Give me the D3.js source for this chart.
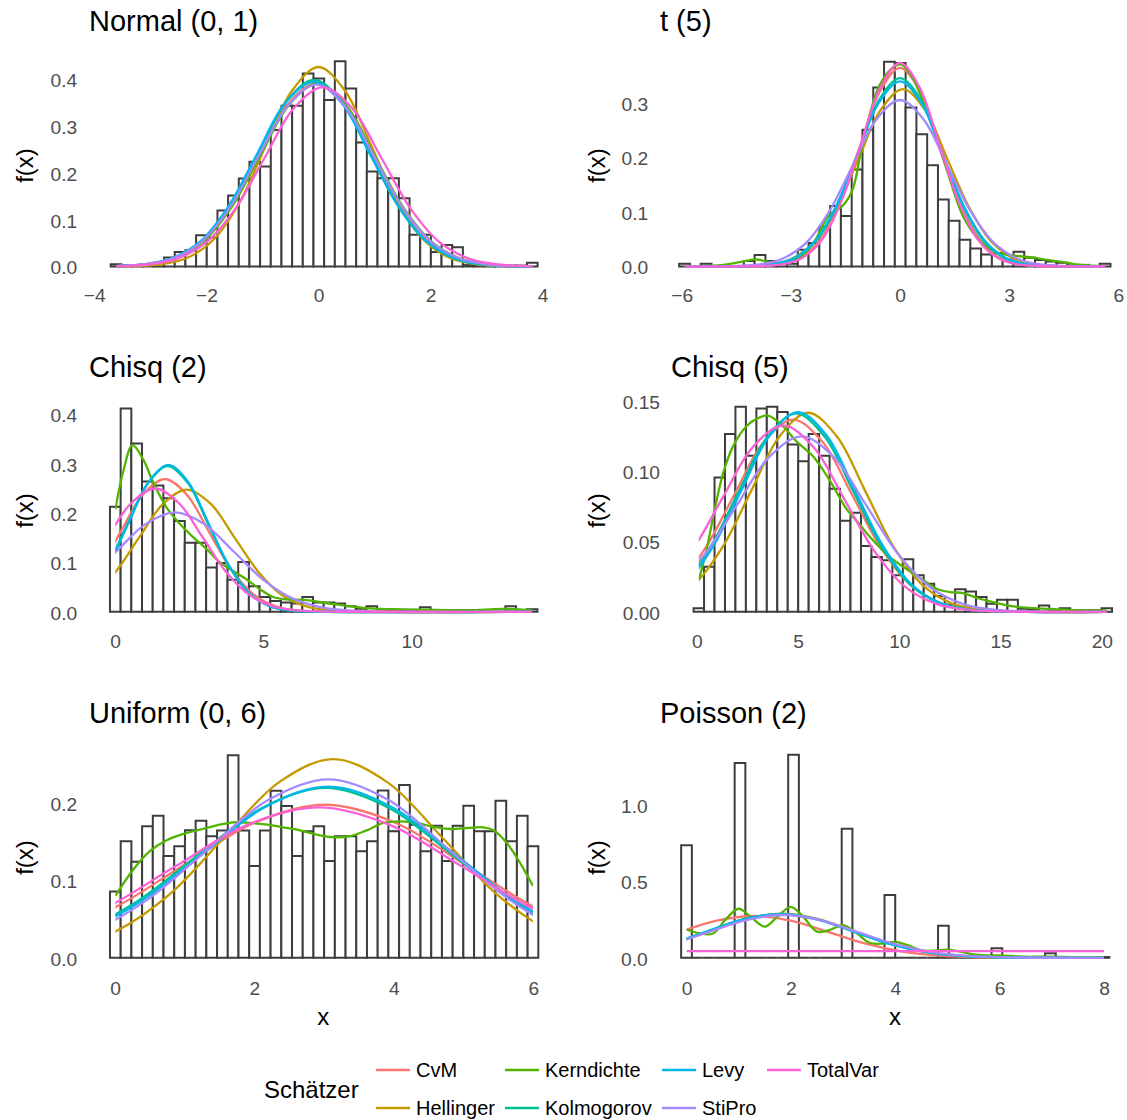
<!DOCTYPE html>
<html><head><meta charset="utf-8">
<script src="https://cdn.jsdelivr.net/npm/d3@7"></script>
<style>body{margin:0;background:#fff}</style>
</head><body>
<svg id="chart" width="1127" height="1120"></svg>
<script>
// ---------------- DATA ----------------
const estimators = ["CvM","Hellinger","Kerndichte","Kolmogorov","Levy","StiPro","TotalVar"];
const legendTitle = "Schätzer";
const panelTitles = ["Normal (0, 1)","t (5)","Chisq (2)","Chisq (5)","Uniform (0, 6)","Poisson (2)"];

// tick values
const normXTicks = [-4,-2,0,2,4], normYTicks = [0,0.1,0.2,0.3,0.4];
const tXTicks = [-6,-3,0,3,6], tYTicks = [0,0.1,0.2,0.3];
const c2XTicks = [0,5,10], c2YTicks = [0,0.1,0.2,0.3,0.4];
const c5XTicks = [0,5,10,15,20], c5YTicks = [0,0.05,0.10,0.15];
const uXTicks = [0,2,4,6], uYTicks = [0,0.1,0.2];
const pXTicks = [0,2,4,6,8], pYTicks = [0,0.5,1.0];

// histograms (density per bin), bin start and width, sample range
const normBinStart = -3.707, normBinWidth = 0.1904, normRange = [-3.61, 3.816];
const normHist = [0.005,0.003,0.003,0.005,0.008,0.019,0.031,0.035,0.067,0.062,0.120,0.152,0.188,0.224,0.214,0.292,0.344,0.344,0.413,0.402,0.356,0.439,0.381,0.265,0.203,0.189,0.189,0.146,0.068,0.068,0.031,0.046,0.041,0.003,0.002,0.002,0.002,0.002,0.002,0.008];
const tBinStart = -6.07, tBinWidth = 0.2964, tRange = [-5.92, 5.64];
const tHist = [0.005,0,0.005,0,0,0,0.010,0.021,0.010,0.006,0.005,0.031,0.043,0.073,0.111,0.093,0.178,0.251,0.329,0.376,0.374,0.292,0.243,0.186,0.123,0.084,0.049,0.033,0.022,0.025,0.013,0.027,0.016,0.012,0.009,0.007,0.002,0.003,0,0.005];
const c2BinStart = -0.17, c2BinWidth = 0.3602, c2Range = [0.01, 14.06];
const c2Hist = [0.213,0.412,0.341,0.264,0.256,0.230,0.184,0.140,0.140,0.090,0.099,0.065,0.101,0.052,0.030,0.022,0.019,0.017,0.030,0.019,0.019,0.017,0.011,0.006,0.011,0.005,0.003,0.003,0.003,0.009,0,0,0.003,0.003,0.003,0,0,0.011,0,0.005];
const c5BinStart = -0.158, c5BinWidth = 0.5166, c5Range = [0.1, 20.25];
const c5Hist = [0.0026,0.032,0.0955,0.1264,0.1457,0.111,0.1445,0.1457,0.142,0.119,0.107,0.1264,0.111,0.0874,0.0648,0.0705,0.0467,0.039,0.0367,0.026,0.0374,0.026,0.020,0.0112,0.0052,0.016,0.0145,0.0105,0.0057,0.0086,0.0086,0.0021,0.0014,0.0045,0.0014,0.0026,0.001,0.001,0.001,0.0026];
const uBinStart = -0.072, uBinWidth = 0.1536, uRange = [0.005, 5.995];
const uHist = [0.0855,0.1504,0.124,0.1696,0.1833,0.1312,0.144,0.1645,0.177,0.1568,0.1643,0.2615,0.1643,0.1184,0.1643,0.2154,0.196,0.1312,0.1633,0.1696,0.1248,0.1568,0.1568,0.1376,0.1504,0.2158,0.1632,0.2231,0.1718,0.1376,0.1705,0.1248,0.1705,0.1962,0.1632,0.1632,0.2026,0.1504,0.1833,0.144];
const pBinStart = -0.1026, pBinWidth = 0.2051, pRange = [0, 8];
const pHist = [0.7386,0,0,0,0,1.279,0,0,0,0,1.333,0,0,0,0,0.8475,0,0,0,0.4118,0,0,0,0,0.211,0,0,0,0,0.063,0,0,0,0,0.0305,0,0,0,0,0.005];

// fitted density curves [x, f(x)]
const normCvM = [[-4.13,0.0001],[-3.11,0.0043],[-2.60,0.0172],[-2.09,0.0529],[-1.58,0.1270],[-1.07,0.2372],[-0.56,0.3452],[-0.05,0.3911],[0.46,0.3452],[0.97,0.2372],[1.48,0.1270],[1.99,0.0529],[2.50,0.0172],[3.01,0.0043],[4.03,0.0001]];
const normHellinger = [[-3.74,0.0001],[-2.81,0.0047],[-2.34,0.0187],[-1.87,0.0577],[-1.40,0.1385],[-0.94,0.2588],[-0.47,0.3765],[0,0.4267],[0.47,0.3765],[0.94,0.2588],[1.40,0.1385],[1.87,0.0577],[2.34,0.0187],[2.81,0.0047],[3.74,0.0001],[3.82,0.0001]];
const normKern = [[-4.10,0.0001],[-3.08,0.0043],[-2.57,0.0172],[-2.06,0.0529],[-1.55,0.1270],[-1.04,0.2372],[-0.53,0.3452],[-0.02,0.3911],[0.49,0.3452],[1.00,0.2372],[1.51,0.1270],[2.02,0.0529],[2.53,0.0172],[3.04,0.0043],[4.06,0.0001]];
const normKolm = [[-4.08,0.0001],[-3.08,0.0044],[-2.58,0.0175],[-2.08,0.0540],[-1.58,0.1295],[-1.08,0.2420],[-0.58,0.3521],[-0.08,0.3989],[0.42,0.3521],[0.92,0.2420],[1.42,0.1295],[1.92,0.0540],[2.42,0.0175],[2.92,0.0044],[3.92,0.0001]];
const normLevy = [[-4.13,0.0001],[-3.12,0.0044],[-2.62,0.0174],[-2.11,0.0535],[-1.61,0.1282],[-1.10,0.2396],[-0.60,0.3486],[-0.09,0.3950],[0.42,0.3486],[0.92,0.2396],[1.43,0.1282],[1.93,0.0535],[2.44,0.0174],[2.94,0.0044],[3.95,0.0001]];
const normStiPro = [[-4.14,0.0001],[-3.12,0.0043],[-2.60,0.0171],[-2.09,0.0527],[-1.58,0.1264],[-1.07,0.2361],[-0.55,0.3435],[-0.04,0.3892],[0.47,0.3435],[0.99,0.2361],[1.50,0.1264],[2.01,0.0527],[2.52,0.0171],[3.04,0.0043],[4.06,0.0001]];
const normTotalVar = [[-4.08,0.0001],[-3.04,0.0043],[-2.52,0.0169],[-2.00,0.0519],[-1.48,0.1245],[-0.96,0.2327],[-0.44,0.3385],[0.08,0.3836],[0.60,0.3385],[1.12,0.2327],[1.64,0.1245],[2.16,0.0519],[2.68,0.0169],[3.20,0.0043],[4.24,0.0001]];

const tCvM = [[-5.92,0],[-4.37,0.0001],[-3.28,0.0041],[-2.73,0.0160],[-2.19,0.0494],[-1.64,0.1185],[-1.09,0.2214],[-0.55,0.3221],[0,0.3650],[0.55,0.3221],[1.09,0.2214],[1.64,0.1185],[2.19,0.0494],[2.73,0.0160],[3.28,0.0041],[4.37,0.0001],[5.64,0]];
const tHellinger = [[-5.92,0],[-4.82,0.0001],[-3.59,0.0036],[-2.98,0.0143],[-2.37,0.0441],[-1.76,0.1058],[-1.14,0.1977],[-0.53,0.2876],[0.08,0.3259],[0.69,0.2876],[1.30,0.1977],[1.92,0.1058],[2.53,0.0441],[3.14,0.0143],[3.75,0.0036],[4.98,0.0001],[5.64,0]];
const tKern = [[-5.92,0.001],[-5.0,0.002],[-4.4,0.008],[-3.97,0.013],[-3.42,0.006],[-2.87,0.011],[-2.41,0.040],[-1.95,0.094],[-1.58,0.111],[-1.30,0.142],[-1.03,0.225],[-0.57,0.332],[-0.15,0.368],[0.05,0.371],[0.35,0.346],[0.81,0.271],[1.28,0.179],[1.73,0.093],[2.20,0.047],[2.66,0.026],[3.12,0.020],[3.58,0.017],[4.04,0.012],[4.50,0.008],[4.96,0.003],[5.64,0.001]];
const tKolm = [[-5.92,0],[-4.61,0.0001],[-3.46,0.0038],[-2.88,0.0152],[-2.31,0.0468],[-1.73,0.1123],[-1.15,0.2099],[-0.58,0.3054],[0,0.3460],[0.58,0.3054],[1.15,0.2099],[1.73,0.1123],[2.31,0.0468],[2.88,0.0152],[3.46,0.0038],[4.61,0.0001],[5.64,0]];
const tLevy = [[-5.92,0],[-4.69,0.0001],[-3.52,0.0038],[-2.93,0.0149],[-2.35,0.0460],[-1.76,0.1104],[-1.17,0.2063],[-0.59,0.3001],[0,0.3401],[0.59,0.3001],[1.17,0.2063],[1.76,0.1104],[2.35,0.0460],[2.93,0.0149],[3.52,0.0038],[4.69,0.0001],[5.64,0]];
const tStiPro = [[-5.92,0],[-5.22,0.0001],[-3.91,0.0034],[-3.26,0.0134],[-2.61,0.0414],[-1.96,0.0993],[-1.30,0.1856],[-0.65,0.2700],[0,0.3059],[0.65,0.2700],[1.30,0.1856],[1.96,0.0993],[2.61,0.0414],[3.26,0.0134],[3.91,0.0034],[5.22,0.0001],[5.64,0]];
const tTotalVar = [[-5.92,0],[-4.27,0.0001],[-3.20,0.0042],[-2.67,0.0164],[-2.13,0.0506],[-1.60,0.1214],[-1.07,0.2268],[-0.53,0.3300],[0,0.3739],[0.53,0.3300],[1.07,0.2268],[1.60,0.1214],[2.13,0.0506],[2.67,0.0164],[3.20,0.0042],[4.27,0.0001],[5.64,0]];

const c2CvM = [[-4.25,0.0001],[-2.77,0.0030],[-2.03,0.0118],[-1.29,0.0364],[-0.54,0.0873],[0.20,0.1632],[0.94,0.2374],[1.68,0.2690],[2.42,0.2374],[3.16,0.1632],[3.90,0.0873],[4.65,0.0364],[5.39,0.0118],[6.13,0.0030],[7.61,0.0001],[14.06,0]];
const c2Hellinger = [[-4.02,0.0001],[-2.41,0.0028],[-1.61,0.0109],[-0.80,0.0335],[0.01,0.0804],[0.81,0.1503],[1.62,0.2187],[2.42,0.2478],[3.23,0.2187],[4.03,0.1503],[4.84,0.0804],[5.64,0.0335],[6.45,0.0109],[7.25,0.0028],[8.86,0.0001],[14.06,0]];
const c2Kern = [[0.01,0.208],[0.28,0.285],[0.59,0.338],[0.95,0.309],[1.29,0.262],[1.74,0.211],[2.19,0.178],[2.64,0.151],[3.09,0.127],[3.54,0.100],[3.98,0.083],[4.43,0.066],[4.88,0.046],[5.33,0.030],[5.80,0.025],[6.34,0.024],[7.46,0.015],[8.59,0.007],[9.71,0.005],[10.83,0.004],[11.95,0.003],[13.07,0.006],[14.06,0.003]];
const c2Kolm = [[-3.62,0.0001],[-2.27,0.0033],[-1.60,0.0130],[-0.92,0.0400],[-0.25,0.0959],[0.43,0.1792],[1.11,0.2608],[1.78,0.2955],[2.46,0.2608],[3.13,0.1792],[3.81,0.0959],[4.48,0.0400],[5.16,0.0130],[5.83,0.0033],[7.18,0.0001],[14.06,0]];
const c2Levy = [[-3.56,0.0001],[-2.22,0.0033],[-1.55,0.0131],[-0.88,0.0403],[-0.21,0.0967],[0.46,0.1806],[1.13,0.2627],[1.80,0.2977],[2.47,0.2627],[3.14,0.1806],[3.81,0.0967],[4.48,0.0403],[5.15,0.0131],[5.82,0.0033],[7.16,0.0001],[14.06,0]];
const c2StiPro = [[-5.90,0.0001],[-3.92,0.0022],[-2.93,0.0089],[-1.94,0.0273],[-0.95,0.0654],[0.04,0.1222],[1.03,0.1778],[2.02,0.2015],[3.01,0.1778],[4.00,0.1222],[4.99,0.0654],[5.98,0.0273],[6.97,0.0089],[7.96,0.0022],[9.94,0.0001],[14.06,0]];
const c2TotalVar = [[-5.03,0.0001],[-3.44,0.0028],[-2.64,0.0110],[-1.84,0.0338],[-1.04,0.0812],[-0.25,0.1516],[0.55,0.2206],[1.35,0.2500],[2.15,0.2206],[2.95,0.1516],[3.74,0.0812],[4.54,0.0338],[5.34,0.0110],[6.14,0.0028],[7.73,0.0001],[14.06,0]];

const c5CvM = [[-6.92,0],[-4.00,0.0015],[-2.54,0.0060],[-1.08,0.0185],[0.38,0.0444],[1.84,0.0829],[3.30,0.1206],[4.76,0.1366],[6.22,0.1206],[7.68,0.0829],[9.14,0.0444],[10.60,0.0185],[12.06,0.0060],[13.52,0.0015],[16.44,0],[20.25,0]];
const c5Hellinger = [[-5.78,0],[-2.96,0.0016],[-1.55,0.0062],[-0.14,0.0191],[1.27,0.0459],[2.68,0.0858],[4.09,0.1248],[5.50,0.1415],[6.91,0.1248],[8.32,0.0858],[9.73,0.0459],[11.14,0.0191],[12.55,0.0062],[13.96,0.0016],[16.78,0],[20.25,0]];
const c5Kern = [[0.10,0.023],[0.48,0.0438],[0.81,0.0676],[1.30,0.0986],[1.79,0.1176],[2.45,0.1319],[3.00,0.1375],[3.52,0.1395],[4.26,0.1319],[4.92,0.1212],[5.74,0.1105],[6.57,0.0933],[7.40,0.073],[8.05,0.062],[8.54,0.0533],[9.53,0.039],[10.19,0.032],[10.85,0.026],[11.84,0.0164],[12.49,0.014],[13.15,0.0133],[13.81,0.010],[14.63,0.0069],[15.62,0.0038],[16.60,0.0026],[17.43,0.0021],[18.75,0.001],[20.25,0.001]];
const c5Kolm = [[-6.42,0],[-3.59,0.0016],[-2.18,0.0062],[-0.76,0.0191],[0.66,0.0458],[2.07,0.0855],[3.49,0.1244],[4.90,0.1410],[6.32,0.1244],[7.73,0.0855],[9.15,0.0458],[10.56,0.0191],[11.98,0.0062],[13.39,0.0016],[16.22,0],[20.25,0]];
const c5Levy = [[-6.24,0],[-3.43,0.0016],[-2.03,0.0062],[-0.62,0.0192],[0.79,0.0461],[2.19,0.0861],[3.60,0.1253],[5.00,0.1420],[6.41,0.1253],[7.81,0.0861],[9.22,0.0461],[10.62,0.0192],[12.03,0.0062],[13.43,0.0016],[16.24,0],[20.25,0]];
const c5StiPro = [[-7.63,0],[-4.43,0.0014],[-2.83,0.0055],[-1.23,0.0169],[0.37,0.0405],[1.97,0.0756],[3.57,0.1100],[5.17,0.1247],[6.77,0.1100],[8.37,0.0756],[9.97,0.0405],[11.57,0.0169],[13.17,0.0055],[14.77,0.0014],[17.97,0],[20.25,0]];
const c5TotalVar = [[-7.78,0],[-4.77,0.0015],[-3.27,0.0058],[-1.76,0.0179],[-0.26,0.0430],[1.25,0.0804],[2.76,0.1170],[4.26,0.1325],[5.77,0.1170],[7.27,0.0804],[8.78,0.0430],[10.28,0.0179],[11.79,0.0058],[13.29,0.0015],[16.30,0],[20.25,0]];

const uCvM = [[-3.05,0.0022],[-2.04,0.0087],[-1.03,0.0267],[-0.02,0.0641],[0.99,0.1198],[2.00,0.1743],[3.01,0.1975],[4.02,0.1743],[5.03,0.1198],[6.04,0.0641],[7.05,0.0267],[8.06,0.0087]];
const uHellinger = [[-1.54,0.0028],[-0.76,0.0113],[0.02,0.0347],[0.80,0.0832],[1.57,0.1555],[2.35,0.2263],[3.13,0.2564],[3.91,0.2263],[4.69,0.1555],[5.46,0.0832],[6.24,0.0347],[7.02,0.0113]];
const uKern = [[0.005,0.0799],[0.263,0.114],[0.50,0.1376],[0.74,0.1517],[0.98,0.1598],[1.22,0.1654],[1.46,0.1709],[1.70,0.1748],[1.94,0.1740],[2.18,0.1718],[2.41,0.1684],[2.65,0.1645],[2.89,0.1590],[3.13,0.1556],[3.37,0.1570],[3.61,0.1645],[3.85,0.1740],[4.09,0.1760],[4.33,0.1740],[4.57,0.1688],[4.81,0.1662],[5.05,0.1675],[5.28,0.1684],[5.43,0.1645],[5.62,0.1480],[5.81,0.1226],[5.995,0.0927]];
const uKolm = [[-2.44,0.0024],[-1.53,0.0096],[-0.62,0.0297],[0.29,0.0712],[1.20,0.1330],[2.11,0.1934],[3.02,0.2192],[3.93,0.1934],[4.84,0.1330],[5.75,0.0712],[6.66,0.0297],[7.57,0.0096]];
const uLevy = [[-2.36,0.0025],[-1.45,0.0097],[-0.55,0.0299],[0.35,0.0718],[1.26,0.1341],[2.16,0.1950],[3.06,0.2210],[3.96,0.1950],[4.87,0.1341],[5.77,0.0718],[6.67,0.0299],[7.57,0.0097]];
const uStiPro = [[-2.14,0.0026],[-1.27,0.0101],[-0.40,0.0312],[0.46,0.0748],[1.33,0.1397],[2.19,0.2033],[3.06,0.2303],[3.93,0.2033],[4.79,0.1397],[5.66,0.0748],[6.52,0.0312],[7.39,0.0101]];
const uTotalVar = [[-3.25,0.0022],[-2.22,0.0085],[-1.19,0.0263],[-0.16,0.0630],[0.86,0.1177],[1.89,0.1712],[2.92,0.1940],[3.95,0.1712],[4.98,0.1177],[6.00,0.0630],[7.03,0.0263],[8.06,0.0085]];

const pCvM = [[-3.07,0.0030],[-2.34,0.0121],[-1.62,0.0372],[-0.89,0.0891],[-0.16,0.1665],[0.56,0.2423],[1.29,0.2746],[2.02,0.2423],[2.74,0.1665],[3.47,0.0891],[4.20,0.0372],[4.92,0.0121],[5.65,0.0030],[7.10,0.0001],[8,0]];
const pHellinger = [[-2.32,0.0032],[-1.63,0.0127],[-0.94,0.0391],[-0.25,0.0939],[0.44,0.1753],[1.13,0.2551],[1.82,0.2891],[2.51,0.2551],[3.20,0.1753],[3.89,0.0939],[4.58,0.0391],[5.27,0.0127],[5.96,0.0032],[7.34,0.0001],[8,0]];
const pKern = [[0,0.186],[0.25,0.161],[0.5,0.158],[0.75,0.252],[1,0.322],[1.25,0.263],[1.5,0.205],[1.75,0.272],[2,0.335],[2.25,0.264],[2.5,0.172],[2.75,0.183],[3,0.215],[3.25,0.166],[3.5,0.099],[3.75,0.093],[4,0.105],[4.25,0.081],[4.5,0.049],[4.75,0.047],[5,0.053],[5.25,0.040],[5.5,0.022],[5.75,0.016],[6,0.016],[6.25,0.012],[6.5,0.007],[6.75,0.007],[7,0.0075],[7.25,0.0056],[7.5,0.003],[7.75,0.0023],[8,0.0024]];
const pKolm = [[-2.38,0.0032],[-1.69,0.0126],[-0.99,0.0388],[-0.30,0.0932],[0.40,0.1741],[1.10,0.2533],[1.79,0.2870],[2.49,0.2533],[3.18,0.1741],[3.88,0.0932],[4.57,0.0388],[5.27,0.0126],[5.96,0.0032],[7.35,0.0001],[8,0]];
const pLevy = [[-2.36,0.0032],[-1.67,0.0126],[-0.97,0.0389],[-0.28,0.0934],[0.41,0.1745],[1.11,0.2538],[1.80,0.2876],[2.49,0.2538],[3.19,0.1745],[3.88,0.0934],[4.57,0.0389],[5.27,0.0126],[5.96,0.0032],[7.35,0.0001],[8,0]];
const pStiPro = [[-2.41,0.0031],[-1.70,0.0123],[-0.99,0.0380],[-0.28,0.0912],[0.43,0.1704],[1.14,0.2479],[1.85,0.2809],[2.56,0.2479],[3.27,0.1704],[3.98,0.0912],[4.69,0.0380],[5.40,0.0123],[6.11,0.0031],[7.53,0.0001],[8,0]];
const pTotalVar = [[0,0.0436],[2,0.0437],[4,0.0437],[6,0.0437],[8,0.0436]];

// ---------------- STYLE / LAYOUT ----------------
const estColors = ["#F8766D","#C49A00","#53B400","#00C094","#00B6EB","#A58AFF","#FB61D7"];
const FONT = '"Liberation Sans", Arial, Helvetica, sans-serif';
const TICK_COL = "#4D4D4D";

const panels = [
  {title:panelTitles[0], hist:normHist, start:normBinStart, w:normBinWidth, range:normRange,
   curves:[normCvM,normHellinger,normKern,normKolm,normLevy,normStiPro,normTotalVar],
   xt:normXTicks, yt:normYTicks, yf:".1f", xd:[-4,4], xr:[94.3,542.7], yd:[0,0.4], yr:[266.5,79.5],
   titleX:89, titleY:31, yLabX:77.3, yTitleX:25.8, yTitleY:165.5, xLabY:295.5, xTitle:null},
  {title:panelTitles[1], hist:tHist, start:tBinStart, w:tBinWidth, range:tRange,
   curves:[tCvM,tHellinger,tKern,tKolm,tLevy,tStiPro,tTotalVar],
   xt:tXTicks, yt:tYTicks, yf:".1f", xd:[-6,6], xr:[681.7,1118.3], yd:[0,0.3], yr:[266.5,103.2],
   titleX:660, titleY:31, yLabX:648.3, yTitleX:597.5, yTitleY:165.5, xLabY:295.5, xTitle:null},
  {title:panelTitles[2], hist:c2Hist, start:c2BinStart, w:c2BinWidth, range:c2Range,
   curves:[c2CvM,c2Hellinger,c2Kern,c2Kolm,c2Levy,c2StiPro,c2TotalVar],
   xt:c2XTicks, yt:c2YTicks, yf:".1f", xd:[0,10], xr:[115,411.7], yd:[0,0.4], yr:[611.8,414.5],
   titleX:89, titleY:377, yLabX:77.3, yTitleX:25.8, yTitleY:510.5, xLabY:641.2, xTitle:null},
  {title:panelTitles[3], hist:c5Hist, start:c5BinStart, w:c5BinWidth, range:c5Range,
   curves:[c5CvM,c5Hellinger,c5Kern,c5Kolm,c5Levy,c5StiPro,c5TotalVar],
   xt:c5XTicks, yt:c5YTicks, yf:".2f", xd:[0,20], xr:[696.8,1101.8], yd:[0,0.15], yr:[611.8,400.8],
   titleX:671, titleY:377, yLabX:660, yTitleX:597.5, yTitleY:510.5, xLabY:641.2, xTitle:null},
  {title:panelTitles[4], hist:uHist, start:uBinStart, w:uBinWidth, range:uRange,
   curves:[uCvM,uHellinger,uKern,uKolm,uLevy,uStiPro,uTotalVar],
   xt:uXTicks, yt:uYTicks, yf:".1f", xd:[0,6], xr:[115,533.3], yd:[0,0.2], yr:[957.8,802.8],
   titleX:89, titleY:723, yLabX:77.3, yTitleX:25.8, yTitleY:857.5, xLabY:988, xTitle:[323.3,1025]},
  {title:panelTitles[5], hist:pHist, start:pBinStart, w:pBinWidth, range:pRange,
   curves:[pCvM,pHellinger,pKern,pKolm,pLevy,pStiPro,pTotalVar],
   xt:pXTicks, yt:pYTicks, yf:".1f", xd:[0,8], xr:[686.5,1104], yd:[0,1], yr:[957.8,805.5],
   titleX:660, titleY:723, yLabX:647.7, yTitleX:597.5, yTitleY:857.5, xLabY:988, xTitle:[895,1025]}
];

const svg = d3.select("#chart");
svg.append("rect").attr("width",1127).attr("height",1120).attr("fill","#fff");
const defs = svg.append("defs");

panels.forEach((p, pi) => {
  const g = svg.append("g");
  const x = d3.scaleLinear().domain(p.xd).range(p.xr);
  const y = d3.scaleLinear().domain(p.yd).range(p.yr);

  // histogram bars (paths so that empty bins still draw their outline)
  g.append("g").selectAll("path").data(p.hist).join("path")
    .attr("d", (v, i) => {
      const x0 = x(p.start + i * p.w), x1 = x(p.start + (i + 1) * p.w);
      const y0 = y(0), y1 = y(v);
      return `M${x0},${y0}V${y1}H${x1}V${y0}Z`;
    })
    .attr("fill", "#fff").attr("stroke", "#3d3d3d").attr("stroke-width", 2.0)
    .attr("stroke-linejoin", "miter");

  // clip curves to the data range
  const cid = "clip" + pi;
  defs.append("clipPath").attr("id", cid).append("rect")
    .attr("x", x(p.range[0])).attr("y", 0)
    .attr("width", x(p.range[1]) - x(p.range[0])).attr("height", 1120);

  const line = d3.line().x(d => x(d[0])).y(d => y(d[1])).curve(d3.curveCatmullRom.alpha(0.5));
  const cg = g.append("g").attr("clip-path", `url(#${cid})`);
  p.curves.forEach((c, ci) => {
    cg.append("path").attr("d", line(c)).attr("fill", "none")
      .attr("stroke", estColors[ci]).attr("stroke-width", 2.3);
  });

  // axes
  const xAxis = d3.axisBottom(x).tickValues(p.xt).tickFormat(d3.format("d")).tickSize(0).tickPadding(0);
  g.append("g").attr("transform", `translate(0,${p.xLabY})`).call(xAxis)
    .attr("font-family", FONT).attr("font-size", 19.2)
    .call(s => s.select(".domain").remove())
    .call(s => s.selectAll("text").attr("y", 0).attr("dy", "0.36em").attr("fill", TICK_COL));

  const yAxis = d3.axisLeft(y).tickValues(p.yt).tickFormat(d3.format(p.yf)).tickSize(0).tickPadding(0);
  g.append("g").attr("transform", `translate(${p.yLabX},0)`).call(yAxis)
    .attr("font-family", FONT).attr("font-size", 19.2)
    .call(s => s.select(".domain").remove())
    .call(s => s.selectAll("text").attr("x", 0).attr("dy", "0.38em").attr("fill", TICK_COL));

  // titles
  g.append("text").attr("x", p.titleX).attr("y", p.titleY).text(p.title)
    .attr("font-family", FONT).attr("font-size", 29).attr("fill", "#000");
  g.append("text").attr("transform", `translate(${p.yTitleX},${p.yTitleY}) rotate(-90)`)
    .attr("text-anchor", "middle").attr("dy", "0.3em").text("f(x)")
    .attr("font-family", FONT).attr("font-size", 24).attr("fill", "#000");
  if (p.xTitle) {
    g.append("text").attr("x", p.xTitle[0]).attr("y", p.xTitle[1]).attr("text-anchor", "middle")
      .text("x").attr("font-family", FONT).attr("font-size", 24).attr("fill", "#000");
  }
});

// legend
const lg = svg.append("g");
lg.append("text").attr("x", 264).attr("y", 1097.5).text(legendTitle)
  .attr("font-family", FONT).attr("font-size", 24).attr("fill", "#000");
const colX = [376, 505, 662, 767], rowY = [1070, 1108];
estimators.forEach((e, i) => {
  const cx = colX[Math.floor(i / 2)], cy = rowY[i % 2];
  lg.append("line").attr("x1", cx).attr("x2", cx + 34).attr("y1", cy).attr("y2", cy)
    .attr("stroke", estColors[i]).attr("stroke-width", 2.4);
  lg.append("text").attr("x", cx + 40).attr("y", cy).attr("dy", "0.36em").text(e)
    .attr("font-family", FONT).attr("font-size", 20).attr("fill", "#000");
});
</script>
</body></html>
